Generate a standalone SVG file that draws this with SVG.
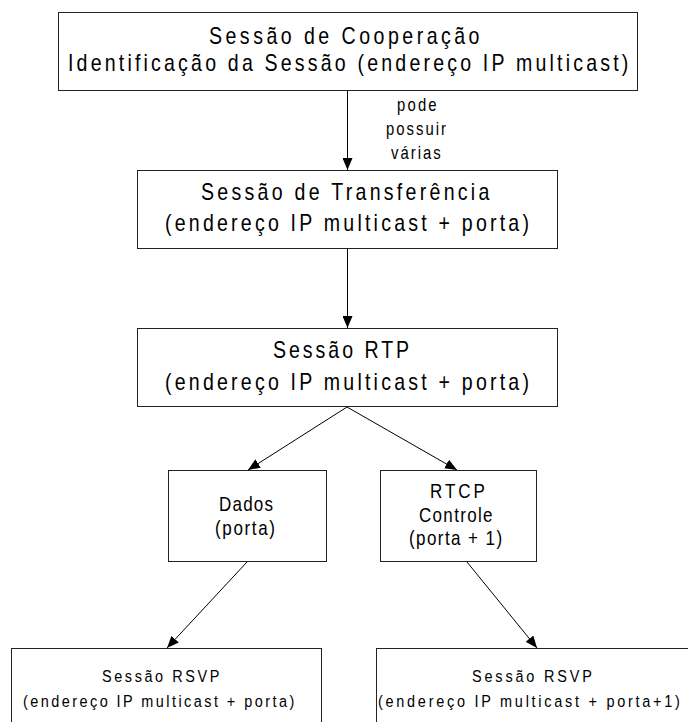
<svg xmlns="http://www.w3.org/2000/svg" width="688" height="722" viewBox="0 0 688 722">
  <defs>
    <marker id="arrow" markerUnits="userSpaceOnUse" markerWidth="12" markerHeight="10" refX="12" refY="5" orient="auto">
      <path d="M0,0 L12,5 L0,10 z" fill="#000"/>
    </marker>
    <style>
      .box { fill: #fff; stroke: #222; stroke-width: 1; }
      .edge { fill: none; stroke: #000; stroke-width: 1; marker-end: url(#arrow); }
      /* condensed sans: glyphs squeezed horizontally by the parent transform */
      text { font-family: "Liberation Sans", Arial, sans-serif; fill: #000; }
      .big { font-size: 23px; letter-spacing: 3.8px; }
      .mid { font-size: 20px; letter-spacing: 1.5px; }
      .low { font-size: 17px; letter-spacing: 2.9px; }
      .lbl { font-size: 17.5px; letter-spacing: 2.4px; }
    </style>
  </defs>
  <rect width="688" height="722" fill="#fff"/>

  <!-- connectors -->
  <g id="connectors">
    <line class="edge" x1="347.5" y1="90.5" x2="347.5" y2="170"/>
    <line class="edge" x1="347.5" y1="248.5" x2="347.5" y2="328"/>
    <line class="edge" x1="347" y1="407" x2="248" y2="470"/>
    <line class="edge" x1="347" y1="407" x2="457" y2="470"/>
    <line class="edge" x1="247" y1="562" x2="167" y2="648"/>
    <line class="edge" x1="467" y1="562" x2="537" y2="648"/>
    <g id="edge-label">
      <text class="lbl" transform="translate(397,111) scale(0.85,1)" textLength="49" lengthAdjust="spacing">pode</text>
      <text class="lbl" transform="translate(386,135) scale(0.85,1)" textLength="73" lengthAdjust="spacing">possuir</text>
      <text class="lbl" transform="translate(391,159) scale(0.85,1)" textLength="61" lengthAdjust="spacing">várias</text>
    </g>
  </g>

  <g id="cooperacao">
    <rect class="box" x="58.5" y="12.5" width="579" height="78"/>
    <text class="big" transform="translate(209,44) scale(0.85,1)" textLength="322" lengthAdjust="spacing">Sessão de Cooperação</text>
    <text class="big" transform="translate(68,71) scale(0.85,1)" textLength="663" lengthAdjust="spacing">Identificação da Sessão (endereço IP multicast)</text>
  </g>

  <g id="transferencia">
    <rect class="box" x="137.5" y="170.5" width="420" height="78"/>
    <text class="big" transform="translate(201,200) scale(0.85,1)" textLength="343" lengthAdjust="spacing">Sessão de Transferência</text>
    <text class="big" transform="translate(165,231) scale(0.85,1)" textLength="432" lengthAdjust="spacing">(endereço IP multicast + porta)</text>
  </g>

  <g id="rtp">
    <rect class="box" x="137.5" y="328.5" width="420" height="78"/>
    <text class="big" transform="translate(273,358) scale(0.85,1)" textLength="164" lengthAdjust="spacing">Sessão RTP</text>
    <text class="big" transform="translate(165,390) scale(0.85,1)" textLength="432" lengthAdjust="spacing">(endereço IP multicast + porta)</text>
  </g>

  <g id="dados">
    <rect class="box" x="168.5" y="470.5" width="158" height="91"/>
    <text class="mid" transform="translate(219,511) scale(0.85,1)" textLength="65" lengthAdjust="spacing">Dados</text>
    <text class="mid" transform="translate(215,535) scale(0.85,1)" textLength="72" lengthAdjust="spacing">(porta)</text>
  </g>

  <g id="rtcp">
    <rect class="box" x="380.5" y="470.5" width="156" height="91"/>
    <text class="mid" transform="translate(430,498) scale(0.85,1)" textLength="66" lengthAdjust="spacing">RTCP</text>
    <text class="mid" transform="translate(419,522) scale(0.85,1)" textLength="88" lengthAdjust="spacing">Controle</text>
    <text class="mid" transform="translate(409,545) scale(0.85,1)" textLength="111" lengthAdjust="spacing">(porta + 1)</text>
  </g>

  <g id="rsvp-dados">
    <rect class="box" x="11.5" y="648.5" width="310" height="90"/>
    <text class="low" transform="translate(102,682) scale(0.85,1)" textLength="141" lengthAdjust="spacing">Sessão RSVP</text>
    <text class="low" transform="translate(23,707) scale(0.85,1)" textLength="322" lengthAdjust="spacing">(endereço IP multicast + porta)</text>
  </g>

  <g id="rsvp-controle">
    <rect class="box" x="376.5" y="648.5" width="330" height="90"/>
    <text class="low" transform="translate(472,682) scale(0.85,1)" textLength="144" lengthAdjust="spacing">Sessão RSVP</text>
    <text class="low" transform="translate(378,707) scale(0.85,1)" textLength="358" lengthAdjust="spacing">(endereço IP multicast + porta+1)</text>
  </g>
</svg>
